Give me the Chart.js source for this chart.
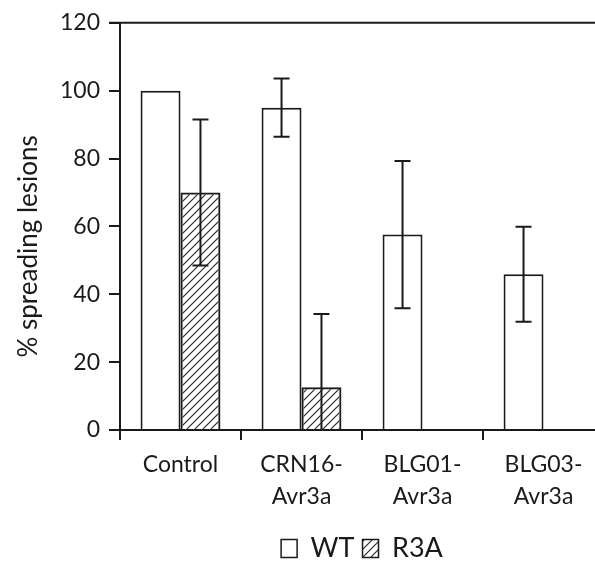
<!DOCTYPE html>
<html>
<head>
<meta charset="utf-8">
<script src="https://cdn.jsdelivr.net/npm/chart.js@4/dist/chart.umd.min.js"></script>
<style>
  html, body { margin: 0; padding: 0; background: #fff; overflow: hidden; }
  #wrap { width: 610px; height: 563px; }
</style>
</head>
<body>
<div id="wrap"><canvas id="lesionChart" width="610" height="563"></canvas></div>
<script>
// values
const categories = ['Control', ['CRN16-', 'Avr3a'], ['BLG01-', 'Avr3a'], ['BLG03-', 'Avr3a']];
const wtValues = [100, 95, 57.6, 45.9];
const wtErrors = [0, 8.6, 21.7, 14];
const r3aValues = [70, 12.6, null, null];
const r3aErrors = [21.5, 21.6, null, null];
const yTicks = [0, 20, 40, 60, 80, 100, 120];

const INK = '#1a1a1a';
const FONT = 'Lato, "Open Sans", sans-serif';

// diagonal hatch used for R3A
function makeHatch() {
  const c = document.createElement('canvas');
  c.width = 8; c.height = 8;
  const g = c.getContext('2d');
  g.strokeStyle = '#2a2a2a';
  g.lineWidth = 1.2;
  g.beginPath();
  g.moveTo(-2, 10); g.lineTo(10, -2);
  g.moveTo(-2, 2); g.lineTo(2, -2);
  g.moveTo(6, 10); g.lineTo(10, 6);
  g.stroke();
  return g.createPattern(c, 'repeat');
}

document.addEventListener('DOMContentLoaded', function() {
  const hatch = makeHatch();

  // error bars, clipped at zero
  const errorBars = {
    id: 'errorBars',
    afterDatasetsDraw(chart) {
      const ctx = chart.ctx;
      const y = chart.scales.y;
      ctx.save();
      ctx.strokeStyle = INK;
      ctx.lineWidth = 2;
      chart.data.datasets.forEach((ds, di) => {
        const meta = chart.getDatasetMeta(di);
        ds.data.forEach((v, i) => {
          const e = ds.errors[i];
          if (v == null || !e) return;
          const x = meta.data[i].x;
          const top = y.getPixelForValue(v + e);
          const bot = y.getPixelForValue(Math.max(0, v - e));
          ctx.beginPath();
          ctx.moveTo(x, top); ctx.lineTo(x, bot);
          ctx.moveTo(x - 8, top); ctx.lineTo(x + 8, top);
          if (v - e > 0) { ctx.moveTo(x - 8, bot); ctx.lineTo(x + 8, bot); }
          ctx.stroke();
        });
      });
      ctx.restore();
    }
  };

  // top frame line at the 120 level
  const topLine = {
    id: 'topLine',
    afterDraw(chart) {
      const a = chart.chartArea;
      const ctx = chart.ctx;
      ctx.save();
      ctx.strokeStyle = INK;
      ctx.lineWidth = 2;
      ctx.beginPath();
      ctx.moveTo(a.left - 11, a.top);
      ctx.lineTo(a.right + 10, a.top);
      ctx.stroke();
      ctx.restore();
    }
  };

  new Chart(document.getElementById('lesionChart'), {
    type: 'bar',
    data: {
      labels: categories,
      datasets: [
        { label: 'WT', data: wtValues, errors: wtErrors, backgroundColor: '#fff',
          borderColor: INK, borderWidth: 2 },
        { label: 'R3A', data: r3aValues, errors: r3aErrors, backgroundColor: hatch,
          borderColor: INK, borderWidth: 2 }
      ]
    },
    options: {
      responsive: false,
      animation: false,
      categoryPercentage: 0.66,
      barPercentage: 1,
      layout: { padding: { top: 20, right: 6, bottom: -9, left: 0 } },
      plugins: {
        tooltip: { enabled: false },
        legend: {
          position: 'bottom',
          fullSize: false,
          labels: {
            color: INK,
            font: { family: FONT, size: 27 },
            boxWidth: 16,
            boxHeight: 18,
            padding: 8,
            generateLabels: () => [
              { text: 'WT', fillStyle: '#fff', strokeStyle: INK, lineWidth: 1.5, fontColor: INK },
              { text: 'R3A', fillStyle: hatch, strokeStyle: INK, lineWidth: 1.5, fontColor: INK }
            ]
          }
        }
      },
      scales: {
        x: {
          afterFit: s => { s.height = 97; },
          grid: { drawOnChartArea: false, tickLength: 10, color: INK, lineWidth: 2 },
          border: { color: INK, width: 2 },
          ticks: { color: INK, font: { family: FONT, size: 23, lineHeight: 1.4 }, padding: 8, maxRotation: 0 }
        },
        y: {
          min: 0,
          max: 120,
          afterFit: s => { s.width = 120; },
          afterBuildTicks: s => { s.ticks = yTicks.map(v => ({ value: v })); },
          grid: { drawOnChartArea: false, tickLength: 11, color: INK, lineWidth: 2 },
          border: { color: INK, width: 2 },
          ticks: { color: INK, font: { family: FONT, size: 23 }, padding: 9 },
          title: {
            display: true,
            text: '% spreading lesions      ',
            color: INK,
            font: { family: FONT, size: 26 },
            padding: { top: 13, bottom: 0 }
          }
        }
      }
    },
    plugins: [errorBars, topLine]
  });
});
</script>
</body>
</html>
